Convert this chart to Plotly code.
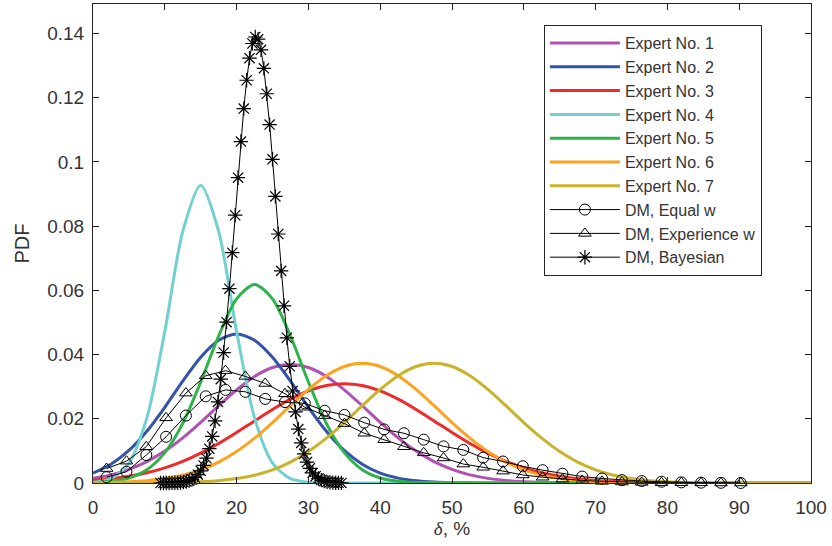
import plotly.graph_objects as go

# ---------------- data ----------------
delta_grid = [0, 2.5, 5, 7.5, 10, 12.5, 15, 17.5, 20, 22.5, 25, 27.5, 30, 32.5, 35, 37.5,
              40, 42.5, 45, 47.5, 50, 52.5, 55, 57.5, 60, 62.5, 65, 67.5, 70, 72.5, 75,
              77.5, 80, 82.5, 85, 87.5, 90, 92.5, 95, 97.5, 100]

expert1 = [0.00144, 0.00253, 0.00422, 0.00666, 0.00994, 0.01408, 0.01891, 0.02406, 0.02903,
           0.03319, 0.03596, 0.03694, 0.03596, 0.03319, 0.02903, 0.02406, 0.01891, 0.01408,
           0.00994, 0.00666, 0.00422, 0.00253, 0.00144, 0.00078, 0.0004, 0.00019, 0.00009,
           0.00004, 0.00002, 0.00001, 0, 0, 0, 0, 0, 0, 0, 0, 0, 0, 0]
expert2 = [0.0031, 0.00585, 0.01013, 0.01613, 0.02359, 0.03172, 0.03918, 0.04447, 0.04639,
           0.04447, 0.03918, 0.03172, 0.02359, 0.01613, 0.01013, 0.00585, 0.0031, 0.00151,
           0.00068, 0.00028, 0.00011, 0.00004, 0.00001, 0, 0, 0, 0, 0, 0, 0, 0, 0, 0, 0, 0,
           0, 0, 0, 0, 0, 0]
expert3 = [0.00078, 0.00129, 0.00207, 0.00319, 0.00473, 0.00676, 0.0093, 0.01232, 0.01573,
           0.01934, 0.0229, 0.02612, 0.02869, 0.03035, 0.03093, 0.03035, 0.02869, 0.02612,
           0.0229, 0.01934, 0.01573, 0.01232, 0.0093, 0.00676, 0.00473, 0.00319, 0.00207,
           0.00129, 0.00078, 0.00045, 0.00025, 0.00014, 0.00007, 0.00004, 0.00002, 0.00001,
           0, 0, 0, 0, 0]
expert4 = [0.00021, 0.00136, 0.00621, 0.02027, 0.04719, 0.07835, 0.09278, 0.07835, 0.04719,
           0.02027, 0.00621, 0.00136, 0.00021, 0.00002, 0, 0, 0, 0, 0, 0, 0, 0, 0, 0, 0, 0,
           0, 0, 0, 0, 0, 0, 0, 0, 0, 0, 0, 0, 0, 0, 0]
expert5 = [0.00014, 0.00051, 0.00156, 0.00414, 0.00946, 0.01859, 0.03146, 0.04579, 0.05737,
           0.06185, 0.05737, 0.04579, 0.03146, 0.01859, 0.00946, 0.00414, 0.00156, 0.00051,
           0.00014, 0.00003, 0, 0, 0, 0, 0, 0, 0, 0, 0, 0, 0, 0, 0, 0, 0, 0, 0, 0, 0, 0, 0]
expert6 = [0.00008, 0.00018, 0.00037, 0.00073, 0.00137, 0.00243, 0.00409, 0.0065, 0.00979,
           0.01396, 0.01884, 0.02409, 0.02916, 0.03343, 0.03628, 0.03728, 0.03628, 0.03343,
           0.02916, 0.02409, 0.01884, 0.01396, 0.00979, 0.0065, 0.00409, 0.00243, 0.00137,
           0.00073, 0.00037, 0.00018, 0.00008, 0.00003, 0.00001, 0, 0, 0, 0, 0, 0, 0, 0]
expert7 = [0, 0.00001, 0.00001, 0.00003, 0.00008, 0.00018, 0.00037, 0.00073, 0.00137, 0.00243,
           0.00409, 0.0065, 0.00979, 0.01396, 0.01884, 0.02409, 0.02916, 0.03343, 0.03628,
           0.03728, 0.03628, 0.03343, 0.02916, 0.02409, 0.01884, 0.01396, 0.00979, 0.0065,
           0.00409, 0.00243, 0.00137, 0.00073, 0.00037, 0.00018, 0.00008, 0.00003, 0.00001,
           0, 0, 0, 0]

dm_delta = [1.9, 4.66, 7.42, 10.18, 12.94, 15.7, 18.46, 21.22, 23.98, 26.74, 29.5, 32.26,
            35.02, 37.78, 40.54, 43.3, 46.06, 48.82, 51.58, 54.34, 57.1, 59.86, 62.62,
            65.38, 68.14, 70.9, 73.66, 76.42, 79.18, 81.94, 84.7, 87.46, 90.22]
dm_equal = [0.0018, 0.0035, 0.0087, 0.0144, 0.021, 0.027, 0.029, 0.0284, 0.0262, 0.0252,
            0.0248, 0.0225, 0.0212, 0.0188, 0.0167, 0.0155, 0.0135, 0.0114, 0.0103, 0.0079,
            0.0067, 0.0052, 0.004, 0.0029, 0.002, 0.0014, 0.0009, 0.0006, 0.0004, 0.0002,
            0.0001, 0.00005, 0.0]
dm_experience = [0.0045, 0.0068, 0.0113, 0.0203, 0.028, 0.0334, 0.035, 0.0332, 0.031, 0.0278,
                 0.0236, 0.021, 0.0185, 0.0155, 0.0135, 0.0113, 0.0094, 0.0078, 0.0059,
                 0.0049, 0.0037, 0.0025, 0.0018, 0.0012, 0.0008, 0.0005, 0.0003, 0.0002,
                 0.0001, 0.0001, 0.00005, 0.0, 0.0]

bayes_delta = [9.4, 9.8, 10.2, 10.6, 11.0, 11.4, 11.8, 12.2, 12.6, 13.0, 13.4, 13.8, 14.2,
               14.6, 15.0, 15.4, 15.8, 16.2, 16.6, 17.0, 17.4, 17.8, 18.2, 18.6, 19.0, 19.4,
               19.8, 20.2, 20.6, 21.0, 21.4, 21.8, 22.2, 22.6, 23.0, 23.4, 23.8, 24.2, 24.6,
               25.0, 25.4, 25.8, 26.2, 26.6, 27.0, 27.4, 27.8, 28.2, 28.6, 29.0, 29.4, 29.8,
               30.2, 30.6, 31.0, 31.4, 31.8, 32.2, 32.6, 33.0, 33.4, 33.8, 34.2, 34.6]
dm_bayes = [0.0, 0.00001, 0.00001, 0.00002, 0.00003, 0.00006, 0.0001, 0.00017, 0.00028,
            0.00046, 0.00073, 0.00113, 0.00173, 0.00259, 0.0038, 0.00547, 0.00772, 0.01069,
            0.01451, 0.01933, 0.02526, 0.03236, 0.04064, 0.0501, 0.06053, 0.07175, 0.08341,
            0.0951, 0.10635, 0.11662, 0.12545, 0.13233, 0.1369, 0.13892, 0.13824, 0.13493,
            0.12916, 0.12125, 0.11164, 0.10082, 0.08928, 0.07756, 0.06607, 0.0552, 0.04523,
            0.03635, 0.02865, 0.02214, 0.01679, 0.01248, 0.0091, 0.00651, 0.00457, 0.00314,
            0.00212, 0.0014, 0.00091, 0.00058, 0.00036, 0.00022, 0.00013, 0.00008, 0.00005,
            0.00003]

expert_names = ["Expert No. 1", "Expert No. 2", "Expert No. 3", "Expert No. 4",
                "Expert No. 5", "Expert No. 6", "Expert No. 7"]
expert_series = [expert1, expert2, expert3, expert4, expert5, expert6, expert7]
expert_colors = ["#b251b2", "#3352a8", "#ee2a2a", "#72d0d0", "#2eb34b", "#fca321", "#c9b32c"]

x_ticks = [0, 10, 20, 30, 40, 50, 60, 70, 80, 90, 100]
y_ticks = [0, 0.02, 0.04, 0.06, 0.08, 0.1, 0.12, 0.14]
y_tick_labels = ["0", "0.02", "0.04", "0.06", "0.08", "0.1", "0.12", "0.14"]

# ---------------- figure ----------------
AX = "#262626"
TXT = "#333333"
FONT = "Liberation Sans, Arial, Helvetica, sans-serif"

fig = go.Figure()
for name, ys, col in zip(expert_names, expert_series, expert_colors):
    fig.add_trace(go.Scatter(x=delta_grid, y=ys, mode="lines", name=name,
                             line=dict(color=col, width=3, shape="spline", smoothing=0.8),
                             cliponaxis=False))

fig.add_trace(go.Scatter(x=dm_delta, y=dm_equal, mode="lines+markers", name="DM, Equal w",
                         line=dict(color="black", width=1),
                         marker=dict(symbol="circle-open", size=11, color="black",
                                     line=dict(width=1, color="black")),
                         cliponaxis=False))
fig.add_trace(go.Scatter(x=dm_delta, y=dm_experience, mode="lines+markers",
                         name="DM, Experience w",
                         line=dict(color="black", width=1),
                         marker=dict(symbol="triangle-up-open", size=11, color="black",
                                     line=dict(width=1, color="black")),
                         cliponaxis=False))
fig.add_trace(go.Scatter(x=bayes_delta, y=dm_bayes, mode="lines+markers", name="DM, Bayesian",
                         line=dict(color="black", width=1),
                         marker=dict(symbol="asterisk-open", size=12, color="black",
                                     line=dict(width=1.2, color="black")),
                         cliponaxis=False))

fig.update_layout(
    width=832, height=546,
    margin=dict(l=93, r=21, t=4, b=63),
    paper_bgcolor="white", plot_bgcolor="white",
    font=dict(family=FONT, size=17, color=TXT),
    legend=dict(x=0.628, xanchor="left", y=0.956, yanchor="top",
                bgcolor="white", bordercolor=AX, borderwidth=1,
                font=dict(family=FONT, size=16, color=TXT),
                tracegroupgap=0, itemwidth=70),
    xaxis=dict(range=[0, 100], tickmode="array", tickvals=x_ticks,
               ticks="inside", ticklen=6, tickwidth=1, tickcolor=AX,
               showline=True, linecolor=AX, linewidth=1, mirror="ticks",
               showgrid=False, zeroline=False, ticklabelstandoff=7,
               tickfont=dict(family=FONT, size=19, color=TXT),
               title=dict(text='<span style="font-family:Liberation Serif"><i>δ</i></span>, %',
                          font=dict(family=FONT, size=19, color=TXT), standoff=4)),
    yaxis=dict(range=[0, 0.1492], tickmode="array", tickvals=y_ticks, ticktext=y_tick_labels,
               ticks="inside", ticklen=6, tickwidth=1, tickcolor=AX,
               showline=True, linecolor=AX, linewidth=1, mirror="ticks",
               showgrid=False, zeroline=False, ticklabelstandoff=4,
               tickfont=dict(family=FONT, size=19, color=TXT),
               title=dict(text="PDF", font=dict(family=FONT, size=20, color=TXT), standoff=12)),
)

fig.write_html("out.html")
